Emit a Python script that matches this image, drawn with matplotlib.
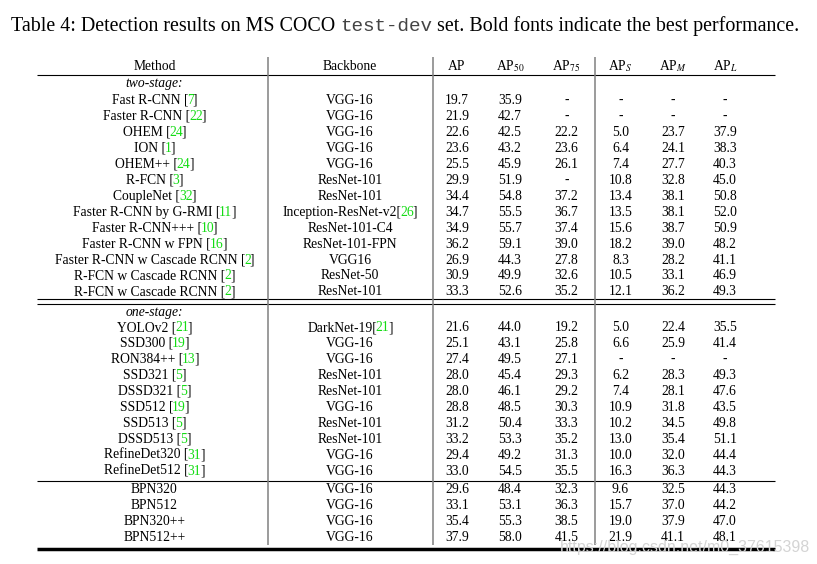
import matplotlib.pyplot as plt

plt.rcParams['font.family'] = 'Liberation Serif'
plt.rcParams['mathtext.fontset'] = 'stix'

#%% table contents
methods = ['Fast R-CNN', 'Faster R-CNN', 'OHEM', 'ION', 'OHEM++', 'R-FCN',
           'CoupleNet', 'Faster R-CNN by G-RMI', 'Faster R-CNN+++',
           'Faster R-CNN w FPN', 'Faster R-CNN w Cascade RCNN',
           'R-FCN w Cascade RCNN', 'R-FCN w Cascade RCNN',
           'YOLOv2', 'SSD300', 'RON384++', 'SSD321', 'DSSD321', 'SSD512',
           'SSD513', 'DSSD513', 'RefineDet320', 'RefineDet512',
           'BPN320', 'BPN512', 'BPN320++', 'BPN512++']
method_refs = ['7', '22', '24', '1', '24', '3', '32', '11', '10', '16', '2', '2', '2',
               '21', '19', '13', '5', '5', '19', '5', '5', '31', '31',
               '', '', '', '']
backbones = ['VGG-16', 'VGG-16', 'VGG-16', 'VGG-16', 'VGG-16', 'ResNet-101',
             'ResNet-101', 'Inception-ResNet-v2', 'ResNet-101-C4', 'ResNet-101-FPN',
             'VGG16', 'ResNet-50', 'ResNet-101',
             'DarkNet-19', 'VGG-16', 'VGG-16', 'ResNet-101', 'ResNet-101', 'VGG-16',
             'ResNet-101', 'ResNet-101', 'VGG-16', 'VGG-16',
             'VGG-16', 'VGG-16', 'VGG-16', 'VGG-16']
backbone_refs = ['', '', '', '', '', '', '', '26', '', '', '', '', '',
                 '21', '', '', '', '', '', '', '', '', '',
                 '', '', '', '']

ap = [19.7, 21.9, 22.6, 23.6, 25.5, 29.9, 34.4, 34.7, 34.9, 36.2, 26.9, 30.9, 33.3,
      21.6, 25.1, 27.4, 28.0, 28.0, 28.8, 31.2, 33.2, 29.4, 33.0,
      29.6, 33.1, 35.4, 37.9]
ap50 = [35.9, 42.7, 42.5, 43.2, 45.9, 51.9, 54.8, 55.5, 55.7, 59.1, 44.3, 49.9, 52.6,
        44.0, 43.1, 49.5, 45.4, 46.1, 48.5, 50.4, 53.3, 49.2, 54.5,
        48.4, 53.1, 55.3, 58.0]
ap75 = [None, None, 22.2, 23.6, 26.1, None, 37.2, 36.7, 37.4, 39.0, 27.8, 32.6, 35.2,
        19.2, 25.8, 27.1, 29.3, 29.2, 30.3, 33.3, 35.2, 31.3, 35.5,
        32.3, 36.3, 38.5, 41.5]
ap_s = [None, None, 5.0, 6.4, 7.4, 10.8, 13.4, 13.5, 15.6, 18.2, 8.3, 10.5, 12.1,
        5.0, 6.6, None, 6.2, 7.4, 10.9, 10.2, 13.0, 10.0, 16.3,
        9.6, 15.7, 19.0, 21.9]
ap_m = [None, None, 23.7, 24.1, 27.7, 32.8, 38.1, 38.1, 38.7, 39.0, 28.2, 33.1, 36.2,
        22.4, 25.9, None, 28.3, 28.1, 31.8, 34.5, 35.4, 32.0, 36.3,
        32.5, 37.0, 37.9, 41.1]
ap_l = [None, None, 37.9, 38.3, 40.3, 45.0, 50.8, 52.0, 50.9, 48.2, 41.1, 46.9, 49.3,
        35.5, 41.4, None, 49.3, 47.6, 43.5, 49.8, 51.1, 44.4, 44.3,
        44.3, 44.2, 47.0, 48.1]

group_sizes = [13, 10, 4]
group_labels = ['two-stage:', 'one-stage:', '']
col_names = ['AP', r'AP$_{50}$', r'AP$_{75}$', r'AP$_S$', r'AP$_M$', r'AP$_L$']
caption = ['Table 4: Detection results on MS COCO', 'test-dev',
           'set. Bold fonts indicate the best performance.']

#%% layout (pixels)
W, H = 817, 564
fs = 9.8
green = '#14dc14'
col_x = [457, 510, 566.5, 620.5, 673, 725]
method_x, backbone_x = 154.5, 350
label_base = [87.5, 316]
first_base = [104, 331, 492.7]
pitch = 15.95
tight = 1.2  # pull the green number and closing bracket in a bit

fig = plt.figure(figsize=(W / 100, H / 100), dpi=100)
ax = fig.add_axes([0, 0, 1, 1])
ax.set_xlim(0, W)
ax.set_ylim(H, 0)
ax.axis('off')
rend = fig.canvas.get_renderer()


def width(s, **kw):
    t = ax.text(0, 0, s, **kw)
    w = t.get_window_extent(rend).width
    t.remove()
    return w


def cited(x, y, pre, ref):
    # "pre" black, ref number green, closing bracket black, centred on x
    full = pre + ref + ']'
    w_full = width(full, fontsize=fs) - 2 * tight
    left = x - w_full / 2
    ref_x = left + width(pre + ref, fontsize=fs) - width(ref, fontsize=fs) - tight
    br_x = left + w_full - width(']', fontsize=fs)
    ax.text(left, y, pre, ha='left', va='baseline', fontsize=fs)
    ax.text(ref_x, y, ref, ha='left', va='baseline', fontsize=fs, color=green)
    ax.text(br_x, y, ']', ha='left', va='baseline', fontsize=fs)


# caption
cfs = 14.4
sp = 0.25 * cfs * 100 / 72
ax.text(11, 31, caption[0], fontsize=cfs, ha='left', va='baseline')
x1 = 11 + width(caption[0], fontsize=cfs) + sp
ax.text(x1, 31, caption[1], fontsize=cfs - 0.5, family='Liberation Mono',
        color='#444444', ha='left', va='baseline')
x2 = x1 + width(caption[1], fontsize=cfs - 0.5, family='Liberation Mono') + sp
ax.text(x2, 31, caption[2], fontsize=cfs, ha='left', va='baseline')

# header
ax.text(method_x, 70.5, 'Method', ha='center', va='baseline', fontsize=fs)
ax.text(backbone_x, 70.5, 'Backbone', ha='center', va='baseline', fontsize=fs)
for cx, name in zip(col_x, col_names):
    ax.text(cx, 70.5, name, ha='center', va='baseline', fontsize=fs)

# rows
cols = [ap, ap50, ap75, ap_s, ap_m, ap_l]
i = 0
for g, n in enumerate(group_sizes):
    if group_labels[g]:
        ax.text(method_x, label_base[g], group_labels[g], ha='center',
                va='baseline', fontsize=fs, style='italic')
    for k in range(n):
        y = first_base[g] + k * pitch
        if method_refs[i]:
            cited(method_x, y, methods[i] + ' [', method_refs[i])
        else:
            ax.text(method_x, y, methods[i], ha='center', va='baseline', fontsize=fs)
        if backbone_refs[i]:
            cited(backbone_x, y, backbones[i] + '[', backbone_refs[i])
        else:
            ax.text(backbone_x, y, backbones[i], ha='center', va='baseline', fontsize=fs)
        for cx, col in zip(col_x, cols):
            v = col[i]
            ax.text(cx, y, '-' if v is None else f'{v:.1f}', ha='center',
                    va='baseline', fontsize=fs)
        i += 1

# rules
ax.hlines([75, 299, 304, 480.7], 37, 775, color='black', lw=0.8)
ax.hlines(548.5, 37, 775, color='black', lw=2.5)
ax.vlines([268, 433, 595], 57, 545, color='#808080', lw=1.1)

# watermark
ax.text(560, 552, 'https://blog.csdn.net/m0_37615398', family='Liberation Sans',
        fontsize=11.5, color='#d4d4d4', ha='left', va='baseline', zorder=5)

plt.savefig('out.png', dpi=100)
